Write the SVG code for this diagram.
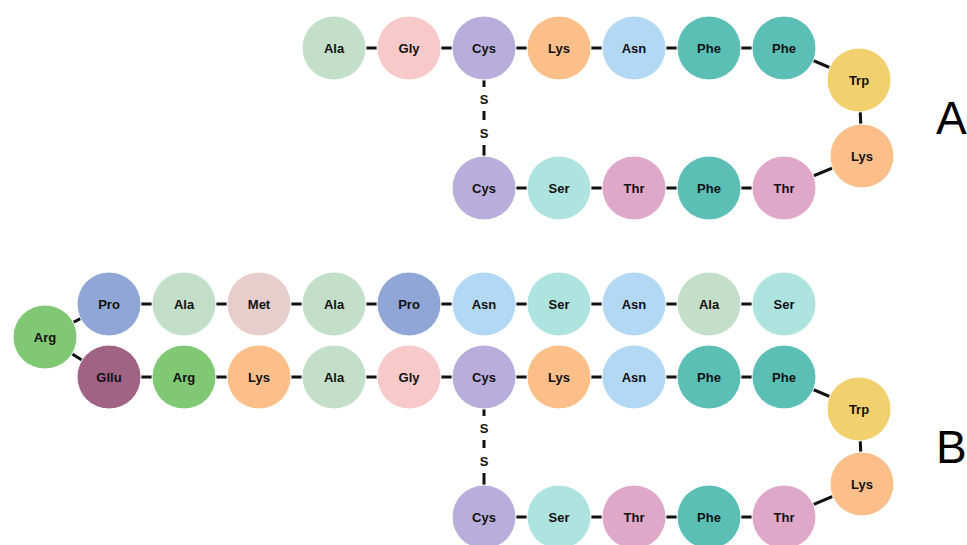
<svg xmlns="http://www.w3.org/2000/svg" width="967" height="545" viewBox="0 0 967 545">
  <style>
    .bond { fill: none; stroke: #111; stroke-width: 3; }
    .ss { stroke: #111; stroke-width: 3; }
    .aa circle { stroke: #fff; stroke-width: 1; }
    .aa text { font-family: "Liberation Sans", Arial, sans-serif; font-weight: bold; font-size: 13px; fill: #111; text-anchor: middle; }
    .sl { font-family: "Liberation Sans", Arial, sans-serif; font-weight: bold; font-size: 13px; fill: #111; text-anchor: middle; }
    .big { font-family: "Liberation Sans", Arial, sans-serif; font-size: 46px; fill: #000; }
    .ala { fill: #c3dfc9; } .gly { fill: #f7c9c9; } .cys { fill: #b9aedb; }
    .lys { fill: #fdbf8a; } .asn { fill: #b3d8f4; } .phe { fill: #5bbfb6; }
    .trp { fill: #f2d06e; } .ser { fill: #ade4df; } .thr { fill: #e0a8c8; }
    .pro { fill: #8fa6d6; } .met { fill: #e8cdcd; } .arg { fill: #80c874; }
    .glu { fill: #a06384; }
  </style>

  <!-- backbone bonds and disulfide bridges -->
  <g id="connectors">
    <polyline class="bond" points="334,48 784,48 859,80 862,156 784,188 484,188"/>
    <line class="ss" x1="484" y1="80" x2="484" y2="87"/>
    <line class="ss" x1="484" y1="111" x2="484" y2="120"/>
    <line class="ss" x1="484" y1="145" x2="484" y2="156"/>
    <polyline class="bond" points="784,304 109,304 45,337 109,377 784,377 859,409 862,484 784,517 484,517"/>
    <line class="ss" x1="484" y1="409" x2="484" y2="416"/>
    <line class="ss" x1="484" y1="440" x2="484" y2="448"/>
    <line class="ss" x1="484" y1="473" x2="484" y2="485"/>
  </g>
  <text class="sl" x="484" y="104">S</text>
  <text class="sl" x="484" y="138">S</text>
  <text class="sl" x="484" y="433">S</text>
  <text class="sl" x="484" y="466">S</text>

  <!-- chain A -->
  <g id="a1" class="aa"><circle class="ala" cx="334" cy="48" r="32"/><text x="334" y="52.5">Ala</text></g>
  <g id="a2" class="aa"><circle class="gly" cx="409" cy="48" r="32"/><text x="409" y="52.5">Gly</text></g>
  <g id="a3" class="aa"><circle class="cys" cx="484" cy="48" r="32"/><text x="484" y="52.5">Cys</text></g>
  <g id="a4" class="aa"><circle class="lys" cx="559" cy="48" r="32"/><text x="559" y="52.5">Lys</text></g>
  <g id="a5" class="aa"><circle class="asn" cx="634" cy="48" r="32"/><text x="634" y="52.5">Asn</text></g>
  <g id="a6" class="aa"><circle class="phe" cx="709" cy="48" r="32"/><text x="709" y="52.5">Phe</text></g>
  <g id="a7" class="aa"><circle class="phe" cx="784" cy="48" r="32"/><text x="784" y="52.5">Phe</text></g>
  <g id="a8" class="aa"><circle class="trp" cx="859" cy="80" r="32"/><text x="859" y="84.5">Trp</text></g>
  <g id="a9" class="aa"><circle class="lys" cx="862" cy="156" r="32"/><text x="862" y="160.5">Lys</text></g>
  <g id="a10" class="aa"><circle class="thr" cx="784" cy="188" r="32"/><text x="784" y="192.5">Thr</text></g>
  <g id="a11" class="aa"><circle class="phe" cx="709" cy="188" r="32"/><text x="709" y="192.5">Phe</text></g>
  <g id="a12" class="aa"><circle class="thr" cx="634" cy="188" r="32"/><text x="634" y="192.5">Thr</text></g>
  <g id="a13" class="aa"><circle class="ser" cx="559" cy="188" r="32"/><text x="559" y="192.5">Ser</text></g>
  <g id="a14" class="aa"><circle class="cys" cx="484" cy="188" r="32"/><text x="484" y="192.5">Cys</text></g>
  <text class="big" x="936" y="134">A</text>

  <!-- chain B, upper strand -->
  <g id="b1" class="aa"><circle class="ser" cx="784" cy="304" r="32"/><text x="784" y="308.5">Ser</text></g>
  <g id="b2" class="aa"><circle class="ala" cx="709" cy="304" r="32"/><text x="709" y="308.5">Ala</text></g>
  <g id="b3" class="aa"><circle class="asn" cx="634" cy="304" r="32"/><text x="634" y="308.5">Asn</text></g>
  <g id="b4" class="aa"><circle class="ser" cx="559" cy="304" r="32"/><text x="559" y="308.5">Ser</text></g>
  <g id="b5" class="aa"><circle class="asn" cx="484" cy="304" r="32"/><text x="484" y="308.5">Asn</text></g>
  <g id="b6" class="aa"><circle class="pro" cx="409" cy="304" r="32"/><text x="409" y="308.5">Pro</text></g>
  <g id="b7" class="aa"><circle class="ala" cx="334" cy="304" r="32"/><text x="334" y="308.5">Ala</text></g>
  <g id="b8" class="aa"><circle class="met" cx="259" cy="304" r="32"/><text x="259" y="308.5">Met</text></g>
  <g id="b9" class="aa"><circle class="ala" cx="184" cy="304" r="32"/><text x="184" y="308.5">Ala</text></g>
  <g id="b10" class="aa"><circle class="pro" cx="109" cy="304" r="32"/><text x="109" y="308.5">Pro</text></g>
  <g id="b11" class="aa"><circle class="arg" cx="45" cy="337" r="32"/><text x="45" y="341.5">Arg</text></g>

  <!-- chain B, lower strand -->
  <g id="b12" class="aa"><circle class="glu" cx="109" cy="377" r="32"/><text x="109" y="381.5">Gllu</text></g>
  <g id="b13" class="aa"><circle class="arg" cx="184" cy="377" r="32"/><text x="184" y="381.5">Arg</text></g>
  <g id="b14" class="aa"><circle class="lys" cx="259" cy="377" r="32"/><text x="259" y="381.5">Lys</text></g>
  <g id="b15" class="aa"><circle class="ala" cx="334" cy="377" r="32"/><text x="334" y="381.5">Ala</text></g>
  <g id="b16" class="aa"><circle class="gly" cx="409" cy="377" r="32"/><text x="409" y="381.5">Gly</text></g>
  <g id="b17" class="aa"><circle class="cys" cx="484" cy="377" r="32"/><text x="484" y="381.5">Cys</text></g>
  <g id="b18" class="aa"><circle class="lys" cx="559" cy="377" r="32"/><text x="559" y="381.5">Lys</text></g>
  <g id="b19" class="aa"><circle class="asn" cx="634" cy="377" r="32"/><text x="634" y="381.5">Asn</text></g>
  <g id="b20" class="aa"><circle class="phe" cx="709" cy="377" r="32"/><text x="709" y="381.5">Phe</text></g>
  <g id="b21" class="aa"><circle class="phe" cx="784" cy="377" r="32"/><text x="784" y="381.5">Phe</text></g>
  <g id="b22" class="aa"><circle class="trp" cx="859" cy="409" r="32"/><text x="859" y="413.5">Trp</text></g>
  <g id="b23" class="aa"><circle class="lys" cx="862" cy="484" r="32"/><text x="862" y="488.5">Lys</text></g>
  <g id="b24" class="aa"><circle class="thr" cx="784" cy="517" r="32"/><text x="784" y="521.5">Thr</text></g>
  <g id="b25" class="aa"><circle class="phe" cx="709" cy="517" r="32"/><text x="709" y="521.5">Phe</text></g>
  <g id="b26" class="aa"><circle class="thr" cx="634" cy="517" r="32"/><text x="634" y="521.5">Thr</text></g>
  <g id="b27" class="aa"><circle class="ser" cx="559" cy="517" r="32"/><text x="559" y="521.5">Ser</text></g>
  <g id="b28" class="aa"><circle class="cys" cx="484" cy="517" r="32"/><text x="484" y="521.5">Cys</text></g>
  <text class="big" x="936" y="463">B</text>
</svg>
